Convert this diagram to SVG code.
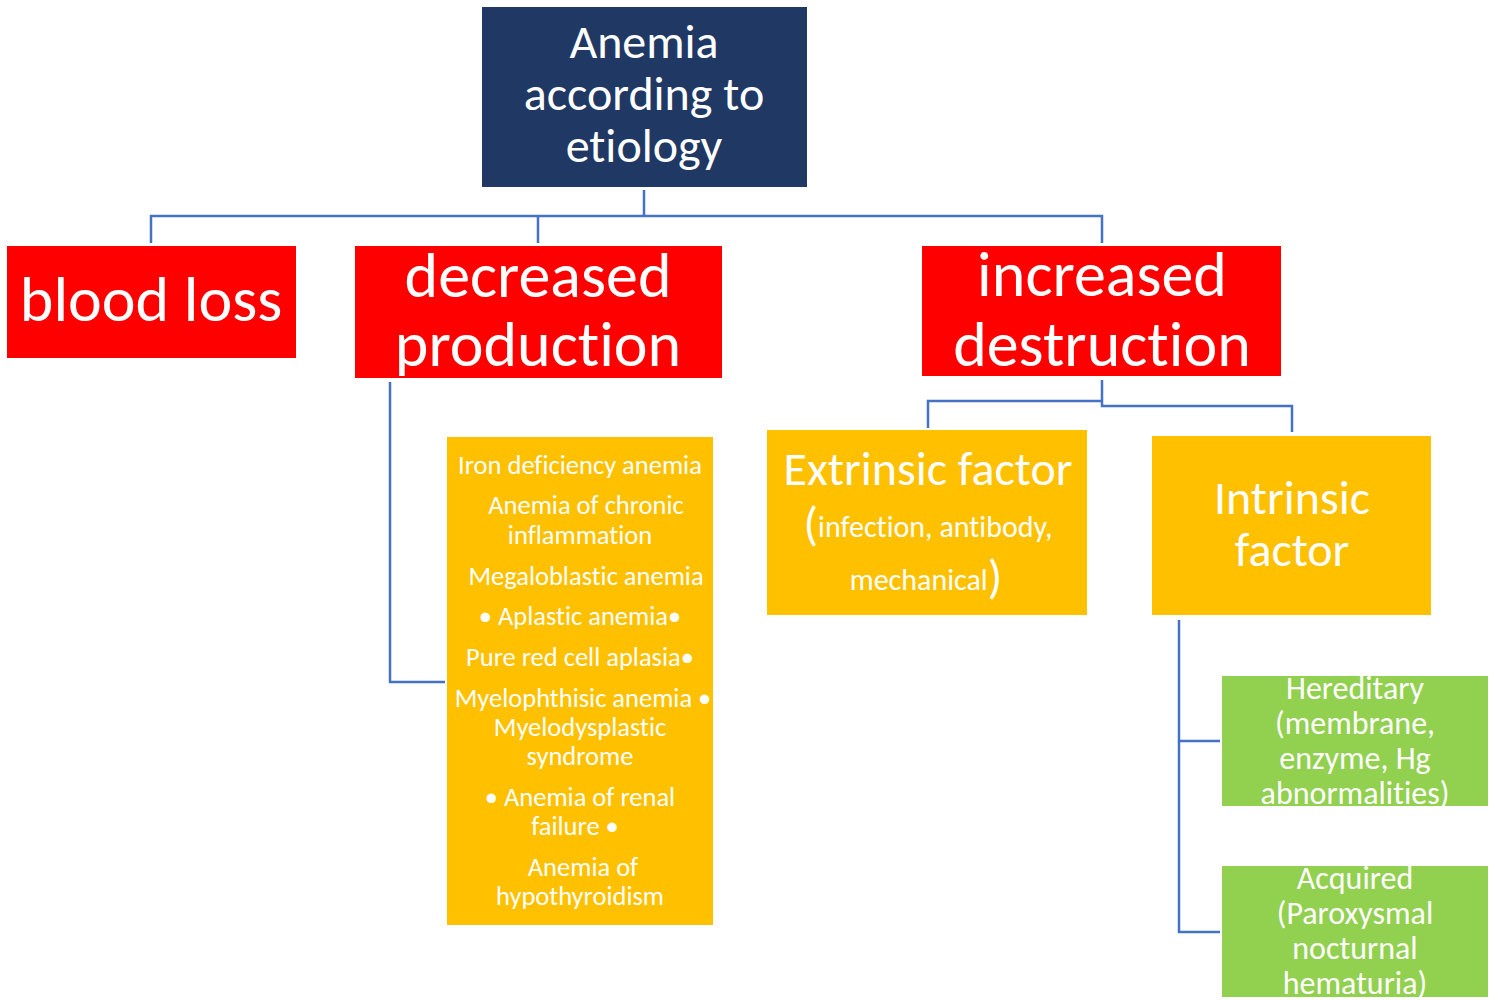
<svg xmlns="http://www.w3.org/2000/svg" width="1502" height="1000" viewBox="0 0 1502 1000">
<style>
text{font-family:Carlito,Lato,"Open Sans",sans-serif;fill:#fff;text-anchor:middle;font-variant-ligatures:none}
.c{fill:none;stroke:#4472C4;stroke-width:2.5}
.navy{fill:#203864}
.red{fill:#FF0000}
.yel{fill:#FFC000}
.grn{fill:#92D050}
.t44{font-size:48px}
.t58{font-size:64px}
.t22{font-size:26.5px}
.t27{font-size:32px}
</style>
<rect width="1502" height="1000" fill="#fff"/>
<g id="connectors">
<path class="c" d="M644 190V216M151 243V216H1102V243M538 216V243"/>
<path class="c" d="M390 382V682H445"/>
<path class="c" d="M1102 380V401H928V428M1102 401V406H1292V432"/>
<path class="c" d="M1179 620V932H1220M1179 741H1220"/>
</g>
<g id="root">
<rect class="navy" x="482" y="7" width="325" height="180"/>
<text class="t44" x="644" y="58">Anemia</text>
<text class="t44" x="644" y="110">according to</text>
<text class="t44" x="644" y="162">etiology</text>
</g>
<g id="blood-loss">
<rect class="red" x="7" y="246" width="289" height="112"/>
<text class="t58" x="151" y="321">blood loss</text>
</g>
<g id="decreased-production">
<rect class="red" x="355" y="246" width="367" height="132"/>
<text class="t58" x="538" y="297">decreased</text>
<text class="t58" x="538" y="366">production</text>
</g>
<g id="increased-destruction">
<rect class="red" x="922" y="246" width="359" height="130"/>
<text class="t58" x="1102" y="296">increased</text>
<text class="t58" x="1102" y="366">destruction</text>
</g>
<g id="production-list">
<rect class="yel" x="447" y="437" width="266" height="488"/>
<g class="t22">
<text x="580" y="474">Iron deficiency anemia</text>
<text x="586" y="514">Anemia of chronic</text>
<text x="580" y="544">inflammation</text>
<text x="586" y="585">Megaloblastic anemia</text>
<text x="580" y="625">• Aplastic anemia•</text>
<text x="580" y="666">Pure red cell aplasia•</text>
<text x="583" y="707">Myelophthisic anemia •</text>
<text x="580" y="736">Myelodysplastic</text>
<text x="580" y="765">syndrome</text>
<text x="580" y="806">• Anemia of renal</text>
<text x="575" y="835">failure •</text>
<text x="583" y="876">Anemia of</text>
<text x="580" y="905">hypothyroidism</text>
</g>
</g>
<g id="extrinsic">
<rect class="yel" x="767" y="430" width="320" height="185"/>
<text class="t44" x="928" y="485">Extrinsic factor</text>
<text x="928" y="537" font-size="30"><tspan font-size="48" dy="3">(</tspan><tspan dy="-3">infection, antibody,</tspan></text>
<text x="926" y="590" font-size="30">mechanical<tspan font-size="48" dy="3">)</tspan></text>
</g>
<g id="intrinsic">
<rect class="yel" x="1152" y="436" width="279" height="179"/>
<text class="t44" x="1292" y="514">Intrinsic</text>
<text class="t44" x="1292" y="566">factor</text>
</g>
<g id="hereditary">
<rect class="grn" x="1222" y="676" width="266" height="130"/>
<g class="t27">
<text x="1355" y="699">Hereditary</text>
<text x="1355" y="734">(membrane,</text>
<text x="1355" y="769">enzyme, Hg</text>
<text x="1355" y="804">abnormalities)</text>
</g>
</g>
<g id="acquired">
<rect class="grn" x="1222" y="866" width="266" height="131"/>
<g class="t27">
<text x="1355" y="889">Acquired</text>
<text x="1355" y="924">(Paroxysmal</text>
<text x="1355" y="959">nocturnal</text>
<text x="1355" y="994">hematuria)</text>
</g>
</g>
</svg>
